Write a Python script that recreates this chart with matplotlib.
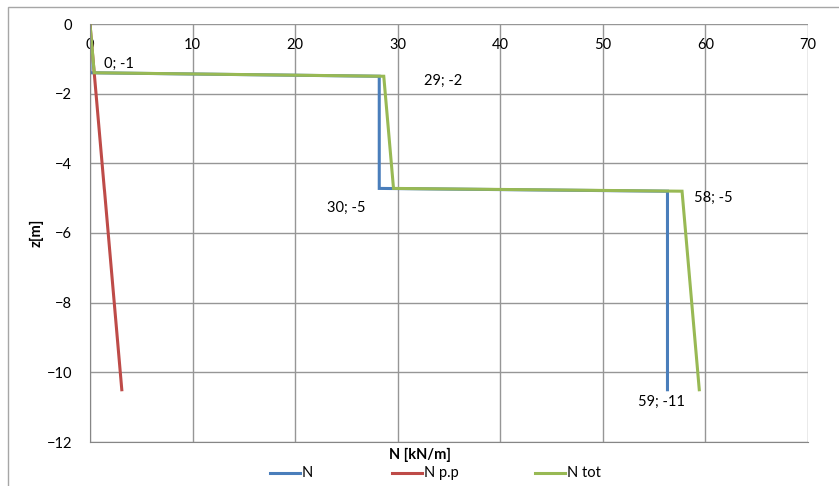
import matplotlib
matplotlib.use("Agg")
import matplotlib.pyplot as plt
from matplotlib.lines import Line2D
from matplotlib.patches import Rectangle

plt.rcParams['font.family'] = ['Lato', 'DejaVu Sans']

# depth profile [m]
z = [0, -1.4, -1.5, -4.72, -4.8, -10.5]
# axial force components [kN/m]
n_load = [0, 0, 28.2, 28.2, 56.3, 56.3]
n_pp = [0, 0.41, 0.44, 1.39, 1.42, 3.1]
n_tot = [0, 0.41, 28.64, 29.59, 57.72, 59.4]

series_names = ["N", "N p.p", "N tot"]
series_colors = ["#4A7EBB", "#BE4B48", "#98B954"]

# point annotations: (text, x, z)
annot_text = ["0; -1", "29; -2", "30; -5", "58; -5", "59; -11"]
annot_x = [1.4, 32.6, 23.1, 58.9, 53.4]
annot_z = [-1.15, -1.64, -5.29, -5.0, -10.86]

x_ticks = [0, 10, 20, 30, 40, 50, 60, 70]
z_ticks = [0, -2, -4, -6, -8, -10, -12]

W, H = 839, 486
FS = 10.5
fig = plt.figure(figsize=(W / 100, H / 100), dpi=100)
ax = fig.add_axes([90 / W, 1 - 442 / H, (808 - 90) / W, (442 - 24) / H])

# outer chart frame
fig.patches.append(Rectangle((8 / W, -0.1), 1.2, 1 - 7 / H + 0.1,
                             transform=fig.transFigure, fill=False,
                             edgecolor="#A6A6A6", linewidth=1.0))

for vals, col in zip([n_load, n_pp, n_tot], series_colors):
    ax.plot(vals, z, color=col, linewidth=2.2, solid_joinstyle="miter")

ax.set_xlim(0, 70)
ax.set_ylim(-12, 0)
ax.set_xticks(x_ticks)
ax.set_yticks(z_ticks)
ax.grid(True, color="#969696", linewidth=1.0)
ax.set_axisbelow(True)
for s in ["top", "right"]:
    ax.spines[s].set_visible(False)
ax.spines["left"].set_color("#868686")
ax.spines["bottom"].set_color("#868686")
ax.xaxis.set_ticks_position("top")
ax.tick_params(length=0, labelsize=FS, colors="black")
ax.tick_params(axis="x", pad=-20)
ax.tick_params(axis="y", pad=13)

for t, xv, zv in zip(annot_text, annot_x, annot_z):
    ax.text(xv, zv, t, fontsize=FS, ha="left", va="center")

fig.text(420 / W, 1 - 455 / H, "N [kN/m]", ha="center", va="center",
         fontsize=FS, fontweight="bold")
fig.text(37 / W, 1 - 233 / H, "z[m]", ha="center", va="center",
         fontsize=FS, fontweight="bold", rotation=90)

# legend row below the axis title
leg_x0 = [270, 392, 535]
leg_y = 1 - 473 / H
for x0, name, col in zip(leg_x0, series_names, series_colors):
    fig.add_artist(Line2D([x0 / W, (x0 + 30) / W], [leg_y, leg_y],
                          color=col, linewidth=2.2, transform=fig.transFigure))
    fig.text((x0 + 32) / W, leg_y, name, ha="left", va="center", fontsize=FS)

fig.savefig("out.png", dpi=100)
